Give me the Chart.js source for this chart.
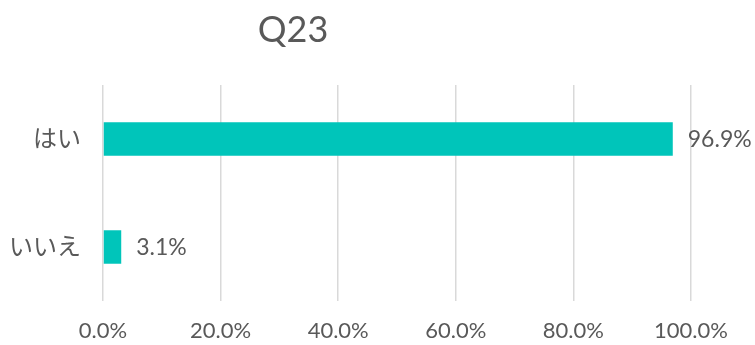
<!DOCTYPE html>
<html>
<head>
<meta charset="utf-8">
<script src="https://cdn.jsdelivr.net/npm/chart.js@4/dist/chart.umd.min.js"></script>
<style>
  html, body { margin: 0; padding: 0; background: #ffffff; }
  #wrap { width: 755px; height: 345px; position: relative; }
</style>
</head>
<body>
<div id="wrap"><canvas id="c" width="755" height="345"></canvas></div>
<script>
// Survey answers for question Q23 (share of respondents, %)
const titleText = 'Q23';
const categories = ['はい', 'いいえ'];
const shares = [96.9, 3.1];
const tickValues = [0, 20, 40, 60, 80, 100];

const FONT = "Lato, 'Noto Sans CJK JP', sans-serif";
const TEXT = '#595959';
const BAR = '#00C5BA';

// Title placed over the plot at a fixed position
const titlePlugin = {
  id: 'fixedTitle',
  afterDraw(chart) {
    const ctx = chart.ctx;
    ctx.save();
    ctx.font = '36px ' + FONT;
    ctx.fillStyle = TEXT;
    ctx.textAlign = 'center';
    ctx.textBaseline = 'middle';
    ctx.fillText(titleText, 293, 30);
    ctx.restore();
  }
};

// Value labels to the right of each bar
const valueLabels = {
  id: 'valueLabels',
  afterDatasetsDraw(chart) {
    const ctx = chart.ctx;
    const meta = chart.getDatasetMeta(0);
    ctx.save();
    ctx.font = '23px ' + FONT;
    ctx.fillStyle = TEXT;
    ctx.textAlign = 'left';
    ctx.textBaseline = 'middle';
    meta.data.forEach((bar, i) => {
      ctx.fillText(shares[i].toFixed(1) + '%', bar.x + 15, bar.y + 1);
    });
    ctx.restore();
  }
};

new Chart(document.getElementById('c'), {
  type: 'bar',
  data: {
    labels: categories,
    datasets: [{
      data: shares,
      backgroundColor: BAR,
      borderWidth: 0,
      barPercentage: 0.31,
      categoryPercentage: 1
    }]
  },
  options: {
    indexAxis: 'y',
    responsive: false,
    animation: false,
    devicePixelRatio: 1,
    layout: { padding: { top: 85, right: 64, left: 0, bottom: 0 } },
    plugins: {
      legend: { display: false },
      title: { display: false },
      tooltip: { enabled: false }
    },
    scales: {
      x: {
        min: 0,
        max: 100,
        afterBuildTicks(axis) {
          axis.ticks = tickValues.map(v => ({ value: v }));
        },
        afterFit(axis) { axis.height = 44; },
        grid: { color: '#d9d9d9', lineWidth: 1.5, drawTicks: false },
        border: { display: false },
        ticks: {
          padding: 17,
          color: TEXT,
          font: { family: FONT, size: 22 },
          callback: v => v.toFixed(1) + '%'
        }
      },
      y: {
        afterFit(axis) { axis.width = 103; },
        grid: { display: false, drawTicks: false },
        border: { display: false },
        ticks: {
          padding: 22,
          color: TEXT,
          font: { family: FONT, size: 24 }
        }
      }
    }
  },
  plugins: [titlePlugin, valueLabels]
});
</script>
</body>
</html>
